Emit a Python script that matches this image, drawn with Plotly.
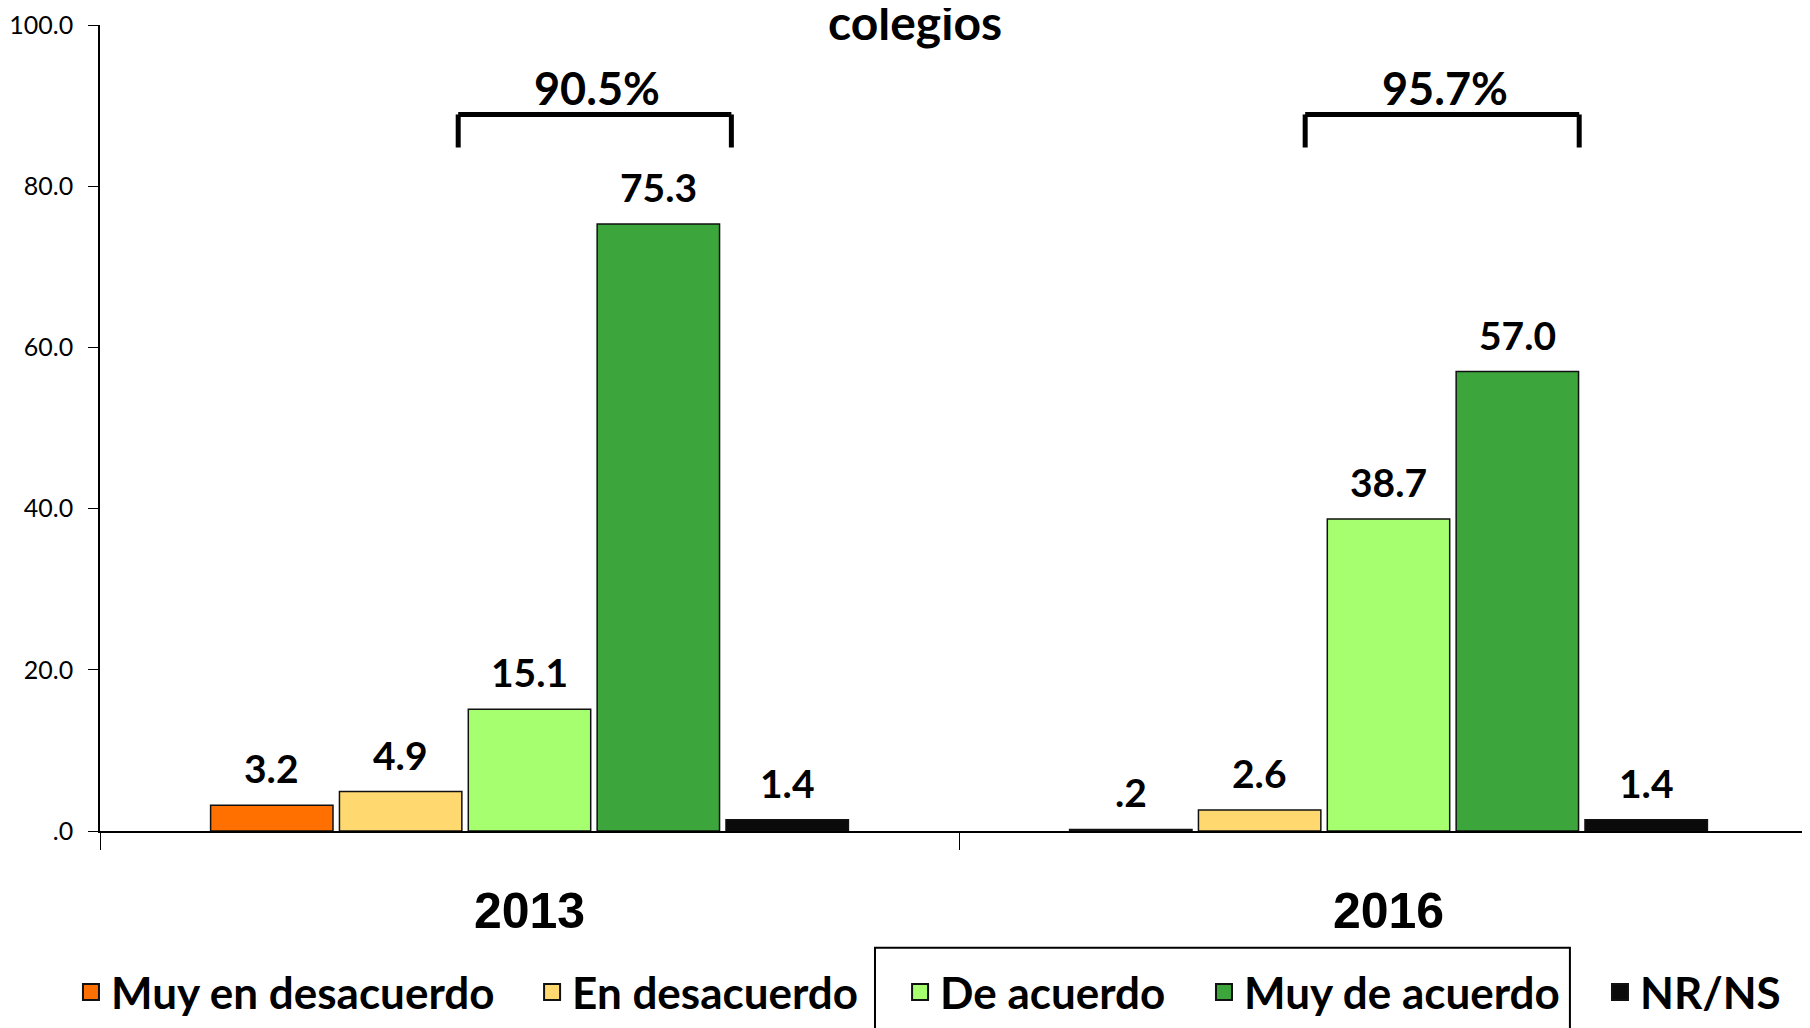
import plotly.graph_objects as go

years = ["2013", "2016"]
series_names = ["Muy en desacuerdo", "En desacuerdo", "De acuerdo", "Muy de acuerdo", "NR/NS"]
series_colors = ["#FF7000", "#FFD970", "#A6FF6E", "#3CA53C", "#0A0A0A"]
values = {
    "Muy en desacuerdo": [3.2, 0.2],
    "En desacuerdo": [4.9, 2.6],
    "De acuerdo": [15.1, 38.7],
    "Muy de acuerdo": [75.3, 57.0],
    "NR/NS": [1.4, 1.4],
}
totals = ["90.5%", "95.7%"]
tick_vals = [0, 20, 40, 60, 80, 100]
legend_x = [-0.0169, 0.2515, 0.4657, 0.6426, 0.8731]


def fmt(v):
    s = f"{v:.1f}"
    return s[1:] if s.startswith("0") else s


tick_text = [fmt(v) for v in tick_vals]

BARGAP = 0.25
GROUPGAP = 0.05
LEG_FONT = dict(family="Lato", size=44, color="black", weight="bold")

fig = go.Figure()
for name, col in zip(series_names, series_colors):
    fig.add_trace(go.Bar(
        name=name, x=years, y=values[name], showlegend=False,
        marker=dict(color=col, line=dict(color="#111111", width=1.5)),
        cliponaxis=False,
    ))

# legend entries (one legend per item, positioned like the reference)
legend_layout = {}
for i, (name, col) in enumerate(zip(series_names, series_colors)):
    key = "legend" if i == 0 else f"legend{i + 1}"
    fig.add_trace(go.Scatter(
        name=name, x=[None], y=[None], mode="markers", legend=key,
        marker=dict(symbol="square", size=16, color=col, line=dict(color="#111111", width=2)),
    ))
    legend_layout[key] = dict(orientation="h", x=legend_x[i], xanchor="left",
                              y=-0.2005, yanchor="middle", font=LEG_FONT,
                              bgcolor="rgba(0,0,0,0)", itemwidth=30)

# value labels above bars
n = len(series_names)
slot = (1 - BARGAP) / n
for i, name in enumerate(series_names):
    off = -(1 - BARGAP) / 2 + slot * (i + 0.5)
    for j, v in enumerate(values[name]):
        fig.add_annotation(x=j + off, y=v, text=fmt(v), showarrow=False,
                           yanchor="bottom", yshift=12,
                           font=dict(family="Lato", size=39, color="black", weight="bold"))

# brackets over "De acuerdo" + "Muy de acuerdo"
bracket = [(-0.083, 0.235, 0.079), (-0.097, 0.222, 0.066)]
for j, (l, r, c) in enumerate(bracket):
    top, bot = 88.9, 84.8
    lw = 5
    fig.add_shape(type="line", x0=j + l, x1=j + r, y0=top, y1=top, line=dict(color="black", width=lw))
    fig.add_shape(type="line", x0=j + l, x1=j + l, y0=top, y1=bot, line=dict(color="black", width=lw))
    fig.add_shape(type="line", x0=j + r, x1=j + r, y0=top, y1=bot, line=dict(color="black", width=lw))
    fig.add_annotation(x=j + c, y=92.2, text=totals[j], showarrow=False, yanchor="middle",
                       font=dict(family="Lato", size=45, color="black", weight="bold"))

# title fragment
fig.add_annotation(xref="paper", yref="paper", x=0.4744, y=0.966, yanchor="bottom",
                   text="colegios", showarrow=False,
                   font=dict(family="Lato", size=48, color="black", weight="bold"))

# box around middle legend items
fig.add_shape(type="rect", xref="paper", yref="paper", x0=0.4511, x1=0.8556, y0=-0.1448, y1=-0.32,
              line=dict(color="black", width=2))

fig.update_layout(
    width=1810, height=1020,
    margin=dict(l=92, r=0, t=17, b=195),
    paper_bgcolor="white", plot_bgcolor="white",
    barmode="group", bargap=BARGAP, bargroupgap=GROUPGAP,
    showlegend=True,
    xaxis=dict(type="category", showline=True, linecolor="black", linewidth=1.5,
               ticks="outside", tickson="boundaries", ticklen=17, tickcolor="black",
               ticklabelstandoff=35, automargin=False,
               tickfont=dict(family="Liberation Sans", size=50, color="black", weight="bold"),
               showgrid=False, zeroline=False),
    yaxis=dict(range=[0, 100], tickvals=tick_vals, ticktext=tick_text,
               showline=True, linecolor="black", linewidth=1.5,
               ticks="outside", ticklen=10, tickcolor="black",
               ticklabelstandoff=10, automargin=False,
               tickfont=dict(family="Lato", size=25, color="black"),
               showgrid=False, zeroline=False),
    **legend_layout,
)

fig.write_html("out.html")
